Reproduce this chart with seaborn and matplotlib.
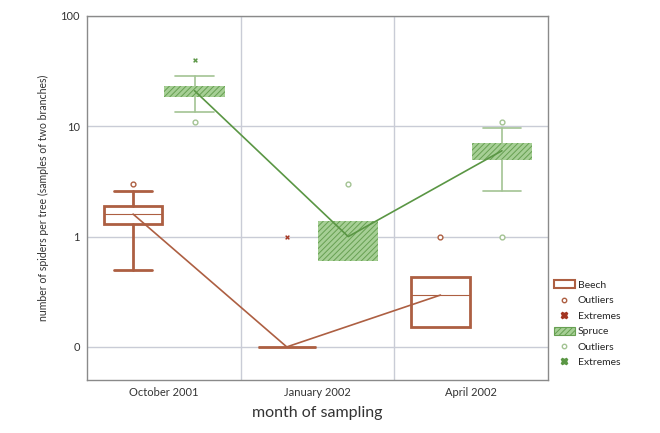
import numpy as np
import pandas as pd
import matplotlib
matplotlib.use("Agg")
import matplotlib.pyplot as plt
import seaborn as sns
from matplotlib.lines import Line2D
from matplotlib.patches import Patch
from matplotlib.ticker import FixedLocator, NullLocator

months = ["October 2001", "January 2002", "April 2002"]
species = ["Beech", "Spruce"]

# per-month box summaries: lower whisker, Q1, median, Q3, upper whisker
beech_whislo = [0.7, 0.0, 0.18]
beech_q1 = [1.3, 0.0, 0.18]
beech_med = [1.6, 0.0, 0.47]
beech_q3 = [1.88, 0.0, 0.63]
beech_whishi = [2.6, 0.0, 0.63]
beech_outliers = [[3.0], [], [1.0]]
beech_extremes = [[], [1.0], []]

spruce_whislo = [13.6, 0.78, 2.6]
spruce_q1 = [18.5, 0.78, 5.0]
spruce_med = [21.0, 1.0, 6.0]
spruce_q3 = [23.2, 1.38, 7.0]
spruce_whishi = [28.5, 1.38, 9.7]
spruce_outliers = [[11.0], [3.0], [11.0, 1.0]]
spruce_extremes = [[40.0], [], []]

y_ticks = [0, 1, 10, 100]
y_tick_labels = ["0", "1", "10", "100"]

BEECH = "#ad5f42"
BEECH_EXT = "#a33522"
SPRUCE_FILL = "#a6cf95"
SPRUCE_HATCH = "#67a052"
SPRUCE_LINE = "#5a9644"
SPRUCE_WHISK = "#a3c393"

sns.set_theme(style="white")
plt.rcParams["font.family"] = ["Lato", "DejaVu Sans"]


def fwd(v):
    v = np.asarray(v, dtype=float)
    return np.where(v >= 1, np.log10(np.maximum(v, 1)), v - 1)


def inv(t):
    t = np.asarray(t, dtype=float)
    return np.where(t >= 0, np.power(10.0, np.maximum(t, 0)), t + 1)


fig = plt.figure(figsize=(6.6, 4.33), dpi=100)
ax = fig.add_axes([87 / 660, 1 - 380 / 433, (548 - 87) / 660, (380 - 16) / 433])
ax.set_yscale("function", functions=(fwd, inv))

n_hue = len(species)
box_w = 0.8 / n_hue
offsets = {s: (i - (n_hue - 1) / 2) * box_w for i, s in enumerate(species)}
cat_pos = np.arange(len(months))


def stats_for(lo, q1, med, q3, hi):
    return [dict(whislo=a, q1=b, med=c, q3=d, whishi=e, fliers=[])
            for a, b, c, d, e in zip(lo, q1, med, q3, hi)]


# Beech boxes (open boxes)
b_stats = stats_for(beech_whislo, beech_q1, beech_med, beech_q3, beech_whishi)
b_caps = [0.25 if hi > q3 else 0.0 for hi, q3 in zip(beech_whishi, beech_q3)]
ax.bxp(b_stats, positions=cat_pos + offsets["Beech"], widths=box_w * 0.95,
       capwidths=b_caps, patch_artist=True, showfliers=False,
       boxprops=dict(facecolor="none", edgecolor=BEECH, linewidth=2.0),
       whiskerprops=dict(color=BEECH, linewidth=2.0),
       capprops=dict(color=BEECH, linewidth=2.0),
       medianprops=dict(color=BEECH, linewidth=0.8), manage_ticks=False, zorder=3)

# Spruce boxes (hatched fill)
s_stats = stats_for(spruce_whislo, spruce_q1, spruce_med, spruce_q3, spruce_whishi)
s_caps = [0.25 if hi > q3 else 0.0 for hi, q3 in zip(spruce_whishi, spruce_q3)]
plt.rcParams["hatch.linewidth"] = 0.7
ax.bxp(s_stats, positions=cat_pos + offsets["Spruce"], widths=box_w * 0.98,
       capwidths=s_caps, patch_artist=True, showfliers=False,
       boxprops=dict(facecolor=SPRUCE_FILL, edgecolor=SPRUCE_HATCH,
                     linewidth=0, hatch="//////"),
       whiskerprops=dict(color=SPRUCE_WHISK, linewidth=1.2),
       capprops=dict(color=SPRUCE_WHISK, linewidth=1.2),
       medianprops=dict(color=SPRUCE_FILL, linewidth=0), manage_ticks=False, zorder=3)

# outliers and extremes
rows = []
for s, outs, exts in [("Beech", beech_outliers, beech_extremes),
                      ("Spruce", spruce_outliers, spruce_extremes)]:
    for i, (o_list, e_list) in enumerate(zip(outs, exts)):
        for v in o_list:
            rows.append(dict(species=s, kind="Outliers", x=cat_pos[i] + offsets[s], y=v))
        for v in e_list:
            rows.append(dict(species=s, kind="Extremes", x=cat_pos[i] + offsets[s], y=v))
pts = pd.DataFrame(rows)

for s, ocol, ecol in [("Beech", BEECH, BEECH_EXT), ("Spruce", SPRUCE_WHISK, SPRUCE_LINE)]:
    o = pts[(pts.species == s) & (pts.kind == "Outliers")]
    e = pts[(pts.species == s) & (pts.kind == "Extremes")]
    if len(o):
        sns.scatterplot(data=o, x="x", y="y", ax=ax, marker="o", s=12,
                        facecolor="white", edgecolor=ocol, linewidth=1.0, zorder=4)
    if len(e):
        sns.scatterplot(data=e, x="x", y="y", ax=ax, marker="X", s=14,
                        color=ecol, linewidth=0.2, zorder=4)

# median trend lines
med = pd.DataFrame({
    "x": np.concatenate([cat_pos + offsets["Beech"], cat_pos + offsets["Spruce"]]),
    "y": beech_med + spruce_med,
    "species": ["Beech"] * 3 + ["Spruce"] * 3,
})
sns.lineplot(data=med, x="x", y="y", hue="species", ax=ax, legend=False,
             palette={"Beech": BEECH, "Spruce": SPRUCE_LINE}, linewidth=1.2,
             zorder=5, sort=False)

ax.set_xlim(-0.5, len(months) - 0.5)
ax.set_ylim(-0.3, 100)
ax.yaxis.set_major_locator(FixedLocator(y_ticks))
ax.set_yticklabels(y_tick_labels)
ax.yaxis.set_minor_locator(NullLocator())
ax.set_xticks(cat_pos)
ax.set_xticklabels(months)
ax.xaxis.set_minor_locator(FixedLocator(cat_pos[:-1] + 0.5))
ax.grid(True, which="major", axis="y", color="#c9ccd6", linewidth=1.0)
ax.grid(True, which="minor", axis="x", color="#c9ccd6", linewidth=1.0)
ax.set_axisbelow(True)
for sp in ax.spines.values():
    sp.set_color("#8a8a8a")
    sp.set_linewidth(1.0)
ax.tick_params(axis="both", which="both", length=0, labelsize=8, colors="#333333", pad=5)

ax.set_xlabel("month of sampling", fontsize=11.5, color="#333333", labelpad=6)
ax.set_ylabel("number of spiders per tree (samples of two branches)",
              fontsize=7.6, color="#333333", labelpad=8)

handles = [
    Patch(facecolor="white", edgecolor=BEECH, linewidth=1.5),
    Line2D([], [], linestyle="none", marker="o", markersize=3.2,
           markerfacecolor="white", markeredgecolor=BEECH),
    Line2D([], [], linestyle="none", marker="X", markersize=4.5, color=BEECH_EXT),
    Patch(facecolor=SPRUCE_FILL, edgecolor=SPRUCE_HATCH, linewidth=0.8, hatch="//////"),
    Line2D([], [], linestyle="none", marker="o", markersize=3.2,
           markerfacecolor="white", markeredgecolor=SPRUCE_WHISK),
    Line2D([], [], linestyle="none", marker="X", markersize=4.5, color=SPRUCE_LINE),
]
labels = ["Beech", "Outliers", "Extremes", "Spruce", "Outliers", "Extremes"]
fig.legend(handles, labels, loc="upper left", bbox_to_anchor=(0.833, 0.362),
           frameon=False, fontsize=7.5, handlelength=2.0, handleheight=0.8,
           handletextpad=0.3, labelspacing=0.56, borderaxespad=0)

fig.savefig("out.png", dpi=100)
